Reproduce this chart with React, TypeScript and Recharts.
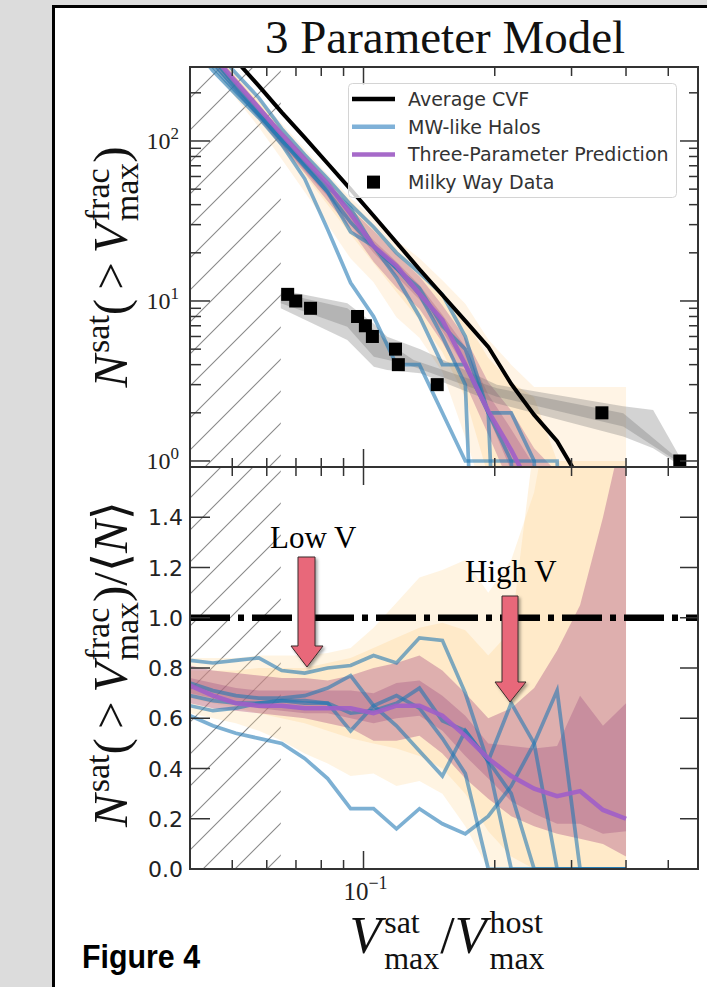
import React from 'react';
import {
  ComposedChart, Line, Area, Scatter, XAxis, YAxis, ReferenceArea, ReferenceLine, Legend,
} from 'recharts';

// ---------------- data ----------------
const vGrid = [0.04, 0.04515, 0.05097, 0.05753, 0.06494, 0.07331, 0.08275, 0.09341, 0.10544, 0.11902,
  0.13436, 0.15166, 0.1712, 0.19325, 0.21815, 0.24625, 0.27797, 0.31378, 0.35421, 0.4];

const xTicks = [0.05, 0.06, 0.07, 0.08, 0.09, 0.1, 0.2, 0.3, 0.4, 0.5];
const xMajor = [0.1];
const topYTicks = [1, 2, 3, 4, 5, 6, 7, 8, 9, 10, 20, 30, 40, 50, 60, 70, 80, 90, 100, 200];
const topYMajor = [1, 10, 100];
const botYTicks = [0, 0.2, 0.4, 0.6, 0.8, 1.0, 1.2, 1.4];
const resolutionLimit = 0.0646;
const xDomain = [0.04, 0.585];
const topDomain = [0.917, 290];
const botDomain = [0, 1.6];

// top panel: cumulative velocity functions
const avgCVF = [670, 463, 319, 221, 151, 105, 72.3, 49.8, 34.1, 23.2, 15.8, 10.9, 7.51, 5.17, 3.03, 1.94, 1.33, 0.76];
const predTop = [500, 342, 234, 161, 110, 77, 54, 35, 22, 16.6, 11.1, 7.6, 4.0, 2.05, 1.17, 0.62, 0.38, 0.22, 0.1, 0.05];
const mwTop1 = [410, 275, 195, 140, 95, 58, 28, 13, 8, 4, 4, 2, 1, 1, 1, 1, 1, 0.001, 0.001, 0.001];
const mwTop2 = [556, 380, 265, 186, 119, 82, 58, 40, 29, 20, 15, 11, 6, 2, 0.001, 0.001, 0.001, 0.001, 0.001, 0.001];
const mwTop3 = [496, 329, 220, 150, 103, 72, 52, 38, 22, 14, 8, 4, 4, 2, 2, 1, 0.001, 0.001, 0.001, 0.001];
const mwTop4 = [462, 310, 211, 146, 101, 70, 48, 27, 22, 16, 11, 6, 3, 0.001, 0.001, 0.001, 0.001, 0.001, 0.001, 0.001];
const mwTop5 = [436, 292, 204, 146, 101, 69, 48, 31, 22, 16, 12, 7, 5, 2, 1, 0.001, 0.001, 0.001, 0.001, 0.001];

const orangeOuterTopLo = [415, 278, 185, 122, 77, 48, 30, 18.4, 13.1, 7.9, 5.9, 3.6, 1.4, 0.5, 0.3, 0.2, 0.1, 0.1, 0.1, 0.1];
const orangeOuterTopHi = [563, 389, 268, 188, 128, 89, 62, 44, 33, 24, 18.5, 13.5, 9.6, 5.75, 4.0, 2.9, 2.9, 2.9, 2.9, 2.9];
const orangeInnerTopLo = [456, 306, 204, 137, 91, 61, 40, 26, 17.3, 11.4, 7.6, 4.8, 2.5, 0.8, 0.3, 0.2, 0.1, 0.1, 0.1, 0.1];
const orangeInnerTopHi = [529, 366, 252, 177, 121, 84, 59, 42, 30, 21, 15, 11, 7.6, 4.4, 3.1, 2.5, 1.0, 1.0, 1.0, 1.0];
const pinkOuterTopLo = [442, 296, 201, 137, 92, 63, 42, 28, 17.6, 12.1, 8.9, 5.5, 3.05, 1.46, 0.68, 0.33, 0.18, 0.1, 0.1, 0.1];
const pinkOuterTopHi = [543, 366, 249, 170, 115, 80, 54, 38, 27.6, 19.5, 14.3, 9.4, 5.9, 3.1, 2.07, 1.2, 0.85, 0.8, 0.8, 0.8];
const pinkInnerTopLo = [469, 315, 211, 141, 95, 65, 45, 30, 20, 14.3, 10.2, 6.5, 3.8, 1.9, 0.87, 0.43, 0.24, 0.13, 0.1, 0.1];
const pinkInnerTopHi = [509, 343, 230, 157, 107, 75, 51, 35, 24, 17.6, 12.6, 8.2, 5.2, 2.6, 1.58, 0.93, 0.65, 0.48, 0.3, 0.2];

// Milky Way satellites
const mwDataX = [0.067, 0.0699, 0.0756, 0.0969, 0.101, 0.1048, 0.1184, 0.1202, 0.1476, 0.3522, 0.5314];
const mwDataN = [11, 10, 9, 8, 7, 6, 5, 4, 3, 2, 1];
const grayInnerX = [0.0646, 0.0918, 0.1056, 0.1173, 0.1303, 0.2023, 0.3942, 0.5314];
const grayInnerLo = [9.67, 6.9, 4.48, 4.2, 3.88, 2.52, 1.64, 0.97];
const grayInnerHi = [11.2, 9.0, 6.6, 5.18, 4.28, 2.85, 1.99, 1.01];
const grayOuterX = [0.0646, 0.0918, 0.1056, 0.1133, 0.135, 0.2023, 0.3942, 0.4616, 0.5314];
const grayOuterLo = [9.0, 5.7, 3.88, 3.7, 3.53, 2.29, 1.42, 1.2, 0.94];
const grayOuterHi = [11.7, 9.67, 7.2, 5.98, 5.0, 2.99, 2.2, 2.08, 1.06];

// bottom panel: ratio to average CVF
const predBot = [0.73, 0.69, 0.66, 0.65, 0.65, 0.64, 0.64, 0.64, 0.62, 0.65, 0.65, 0.61, 0.53, 0.44, 0.37, 0.32, 0.29, 0.31, 0.235, 0.2];
const mwBot1 = [0.61, 0.57, 0.54, 0.52, 0.5, 0.44, 0.36, 0.24, 0.24, 0.16, 0.24, 0.18, 0.14, 0.21, 0.33, 0.5, 0.71, 0, 0, 0];
const mwBot2 = [0.83, 0.82, 0.83, 0.84, 0.79, 0.78, 0.8, 0.81, 0.85, 0.82, 0.92, 0.91, 0.7, 0.42, 0, 0, 0, 0, 0, 0];
const mwBot3 = [0.74, 0.71, 0.69, 0.68, 0.68, 0.69, 0.72, 0.77, 0.65, 0.57, 0.47, 0.37, 0.55, 0.43, 0.66, 0.5, 0, 0, 0, 0];
const mwBot4 = [0.69, 0.67, 0.66, 0.66, 0.67, 0.67, 0.66, 0.55, 0.65, 0.69, 0.64, 0.52, 0.38, 0, 0, 0, 0, 0, 0, 0];
const mwBot5 = [0.65, 0.63, 0.64, 0.66, 0.67, 0.66, 0.66, 0.62, 0.63, 0.66, 0.72, 0.59, 0.55, 0.43, 0.3, 0, 0, 0, 0, 0];

const orangeOuterBotLo = [0.62, 0.6, 0.58, 0.55, 0.51, 0.46, 0.42, 0.37, 0.38, 0.33, 0.35, 0.3, 0.17, 0, 0, 0, 0, 0, 0, 0];
const orangeOuterBotHi = [0.84, 0.84, 0.84, 0.85, 0.85, 0.85, 0.86, 0.88, 0.96, 1.06, 1.16, 1.19, 1.23, 1.1, 1.23, 1.5, 2.0, 2.2, 2.4, 2.6];
const orangeInnerBotLo = [0.68, 0.66, 0.64, 0.62, 0.6, 0.58, 0.55, 0.52, 0.5, 0.48, 0.45, 0.4, 0.3, 0.15, 0.05, 0, 0, 0, 0, 0];
const orangeInnerBotHi = [0.79, 0.79, 0.79, 0.8, 0.8, 0.8, 0.82, 0.84, 0.88, 0.92, 0.96, 0.98, 0.95, 0.85, 0.95, 1.7, 2.0, 2.0, 2.0, 2.0];
const pinkOuterBotLo = [0.66, 0.64, 0.63, 0.62, 0.61, 0.6, 0.58, 0.56, 0.51, 0.51, 0.53, 0.46, 0.36, 0.28, 0.21, 0.17, 0.14, 0.12, 0.1, 0.05];
const pinkOuterBotHi = [0.81, 0.79, 0.78, 0.77, 0.76, 0.76, 0.75, 0.77, 0.8, 0.82, 0.85, 0.79, 0.7, 0.6, 0.64, 0.72, 0.87, 1.05, 1.4, 1.8];
const pinkInnerBotLo = [0.7, 0.68, 0.66, 0.64, 0.63, 0.62, 0.62, 0.6, 0.58, 0.6, 0.61, 0.55, 0.45, 0.36, 0.27, 0.22, 0.18, 0.18, 0.14, 0.15];
const pinkInnerBotHi = [0.76, 0.74, 0.72, 0.71, 0.71, 0.71, 0.71, 0.71, 0.7, 0.74, 0.75, 0.69, 0.61, 0.5, 0.49, 0.48, 0.49, 0.69, 0.57, 0.66];

const legendLabels = ['Average CVF', 'MW-like Halos', 'Three-Parameter Prediction', 'Milky Way Data'];

// ---------------- helpers ----------------
const pts = (xs: number[], ys: number[]) =>
  xs.map((x, i) => ({ x, y: ys[i] })).filter((d) => d.y !== undefined);
const band = (xs: number[], lo: number[], hi: number[]) => xs.map((x, i) => ({ x, r: [lo[i], hi[i]] }));

// ---------------- styles ----------------
const W = 707;
const H = 987;
const PLOT_W = 508;
const TOP_H = 400;
const BOT_H = 402;
const axisColor = '#333';
const BLUE = '#1f77b4';
const PURPLE = '#a05ec8';
const ORANGE_OUT = '#ffd9a0';
const ORANGE_IN = '#ffcf88';
const PINK_OUT = '#9e3f7a';
const PINK_IN = '#8e3a78';
const GRAY = '#6e6e6e';
const SERIF = 'Liberation Serif, DejaVu Serif, serif';
const SANS = 'DejaVu Sans, sans-serif';

function XTick(props: any) {
  const { x, y, payload, h, label } = props;
  const major = xMajor.includes(payload.value);
  const len = major ? 18 : 9;
  return (
    <g>
      <line x1={x} x2={x} y1={y} y2={y - len} stroke={axisColor} strokeWidth={1.5} />
      <line x1={x} x2={x} y1={y - h} y2={y - h + len} stroke={axisColor} strokeWidth={1.5} />
      {label && major ? (
        <text x={x + 2} y={y + 31} textAnchor="middle" fontFamily={SERIF} fontSize={25} fill="#222">
          10<tspan dy={-11} fontSize={18}>{'\u22121'}</tspan>
        </text>
      ) : null}
    </g>
  );
}

function YTickTop(props: any) {
  const { x, y, payload } = props;
  const v = payload.value;
  const major = topYMajor.includes(v);
  const exp = Math.round(Math.log10(v));
  return (
    <g>
      <line x1={x} x2={x + (major ? 20 : 11)} y1={y} y2={y} stroke={axisColor} strokeWidth={1.5} />
      <line x1={x + PLOT_W} x2={x + PLOT_W - (major ? 18 : 9)} y1={y} y2={y} stroke={axisColor} strokeWidth={1.5} />
      {major ? (
        <text x={x - 11} y={y + 8} textAnchor="end" fontFamily={SERIF} fontSize={24} fill="#222">
          10<tspan dy={-10} fontSize={17}>{String(exp)}</tspan>
        </text>
      ) : null}
    </g>
  );
}

function YTickBot(props: any) {
  const { x, y, payload } = props;
  return (
    <g>
      <line x1={x} x2={x + 20} y1={y} y2={y} stroke={axisColor} strokeWidth={1.5} />
      <line x1={x + PLOT_W} x2={x + PLOT_W - 18} y1={y} y2={y} stroke={axisColor} strokeWidth={1.5} />
      <text x={x - 7} y={y + 8} textAnchor="end" fontFamily={SANS} fontSize={22} fill="#222">
        {payload.value.toFixed(1)}
      </text>
    </g>
  );
}

const Square = (p: any) => <rect x={p.cx - 6.5} y={p.cy - 6.5} width={13} height={13} fill="#000" />;

function LegendBox() {
  const rowY = (i: number) => 16 + 27.7 * i;
  const swatch = ['#000', '#7fb1d8', '#a66ac9'];
  return (
    <svg width={329} height={115} style={{ display: 'block' }}>
      <rect x={0.5} y={0.5} width={328} height={114} rx={4} fill="#fff" fillOpacity={0.8} stroke="#d4d4d4" />
      {legendLabels.map((lab, i) => (
        <g key={lab}>
          {i < 3 ? (
            <line x1={4} x2={47} y1={rowY(i)} y2={rowY(i)} stroke={swatch[i]} strokeWidth={4.5} />
          ) : (
            <rect x={19} y={rowY(i) - 6.5} width={13} height={13} fill="#000" />
          )}
          <text x={60} y={rowY(i) + 7} fontFamily={SANS} fontSize={19} fill="#333">{lab}</text>
        </g>
      ))}
    </svg>
  );
}

function Background() {
  return (
    <svg width={W} height={H} style={{ position: 'absolute', left: 0, top: 0 }}>
      <defs>
        <pattern id="hatch" patternUnits="userSpaceOnUse" width={32} height={32}>
          <path d="M0,32 L32,0 M-8,8 L8,-8 M24,40 L40,24" stroke="#8a8a8a" strokeWidth={1.1} />
        </pattern>
        <filter id="shadow" x="-60%" y="-20%" width="220%" height="150%">
          <feDropShadow dx={2} dy={2} stdDeviation={1.8} floodColor="#000" floodOpacity={0.35} />
        </filter>
      </defs>
      <rect x={0} y={0} width={W} height={H} fill="#dcdcdc" />
      <rect x={53} y={6} width={W} height={H} fill="#fff" />
      <line x1={53.5} x2={53.5} y1={5} y2={H} stroke="#000" strokeWidth={3} />
      <line x1={52} x2={W} y1={6.5} y2={6.5} stroke="#000" strokeWidth={3} />
    </svg>
  );
}

function Overlay() {
  const SUP = 34;
  const XS = 32;
  const fracW = 1.554 * SUP;
  const satW = 1.111 * XS;
  const hostW = 1.667 * XS;
  const yLabelCore = [
    <tspan key="n" fontStyle="italic">N</tspan>,
    <tspan key="s" fontSize={SUP} dy={-18} dx={2}>sat</tspan>,
    <tspan key="p" dy={18}>(</tspan>,
    <tspan key="g" dx={9}>{'>'}</tspan>,
    <tspan key="v" dx={9} fontStyle="italic">V</tspan>,
    <tspan key="f" fontSize={SUP} dy={-18} dx={2}>frac</tspan>,
    <tspan key="m" fontSize={SUP} dx={-fracW} dy={29}>max</tspan>,
    <tspan key="c" dy={-11}>)</tspan>,
  ];
  return (
    <svg width={W} height={H} style={{ position: 'absolute', left: 0, top: 0, pointerEvents: 'none' }}>
      {/* frames */}
      <rect x={190} y={67} width={PLOT_W} height={TOP_H} fill="none" stroke={axisColor} strokeWidth={2} />
      <rect x={190} y={467} width={PLOT_W} height={BOT_H} fill="none" stroke={axisColor} strokeWidth={2} />
      {/* title */}
      <text x={445} y={53} textAnchor="middle" fontFamily={SERIF} fontSize={47} fill="#111">3 Parameter Model</text>
      {/* y labels */}
      <text transform="translate(127,267) rotate(-90)" textAnchor="middle" fontFamily={SERIF} fontSize={49} fill="#111">
        {yLabelCore}
      </text>
      <text transform="translate(127,664) rotate(-90)" textAnchor="middle" fontFamily={SERIF} fontSize={49} fill="#111">
        {yLabelCore}
        <tspan>/</tspan>
        <tspan>{'\u27E8'}</tspan>
        <tspan fontStyle="italic">N</tspan>
        <tspan>{'\u27E9'}</tspan>
      </text>
      {/* x label */}
      <text x={447} y={953} textAnchor="middle" fontFamily={SERIF} fontSize={52} fill="#111">
        <tspan fontStyle="italic">V</tspan>
        <tspan fontSize={XS} dy={-20} dx={3}>sat</tspan>
        <tspan fontSize={XS} dx={-satW} dy={36}>max</tspan>
        <tspan dy={-16} dx={1}>/</tspan>
        <tspan fontStyle="italic">V</tspan>
        <tspan fontSize={XS} dy={-20} dx={3}>host</tspan>
        <tspan fontSize={XS} dx={-hostW} dy={36}>max</tspan>
      </text>
      {/* figure caption */}
      <text x={82} y={968} fontFamily="Liberation Sans, Arial, sans-serif" fontWeight="bold" fontSize={33}
        textLength={118} lengthAdjust="spacingAndGlyphs" fill="#000">Figure 4</text>
      {/* annotations */}
      <text x={270} y={548} fontFamily={SERIF} fontSize={31} fill="#000">Low V</text>
      <text x={465} y={582} fontFamily={SERIF} fontSize={31} fill="#000">High V</text>
      <polygon points="298,557 315,557 315,646 323,646 307,667 291,646 298,646"
        fill="#e8677a" stroke="#3a2a2a" strokeWidth={1} filter="url(#shadow)" />
      <polygon points="502,596 518,596 518,682 526,682 510,702 495,682 502,682"
        fill="#e8677a" stroke="#3a2a2a" strokeWidth={1} filter="url(#shadow)" />
    </svg>
  );
}

const blueLine = (key: string, data: any[]) => (
  <Line key={key} data={data} dataKey="y" type="linear" stroke={BLUE} strokeOpacity={0.58} strokeWidth={3.7}
    dot={false} isAnimationActive={false} legendType="none" />
);
const bandArea = (key: string, data: any[], fill: string, op: number) => (
  <Area key={key} data={data} dataKey="r" type="linear" stroke="none" fill={fill} fillOpacity={op}
    isAnimationActive={false} legendType="none" />
);

function TopPanel() {
  return (
    <div style={{ position: 'absolute', left: 0, top: 0 }}>
      <ComposedChart width={W} height={500} margin={{ top: 67, right: 9, bottom: 0, left: 130 }}>
        <XAxis dataKey="x" type="number" scale="log" domain={xDomain} allowDataOverflow ticks={xTicks}
          interval={0} height={33} tickSize={0} tickMargin={0} axisLine={false} tickLine={false}
          tick={(p: any) => <XTick {...p} h={TOP_H} label={false} />} />
        <YAxis type="number" scale="log" domain={topDomain} allowDataOverflow ticks={topYTicks}
          interval={0} width={60} tickSize={0} tickMargin={0} axisLine={false} tickLine={false}
          tick={(p: any) => <YTickTop {...p} />} />
        <ReferenceArea x1={xDomain[0]} x2={resolutionLimit} y1={topDomain[0]} y2={topDomain[1]}
          fill="url(#hatch)" fillOpacity={1} stroke="none" />
        {bandArea('oo', band(vGrid, orangeOuterTopLo, orangeOuterTopHi), ORANGE_OUT, 0.28)}
        {bandArea('oi', band(vGrid, orangeInnerTopLo, orangeInnerTopHi), ORANGE_IN, 0.28)}
        {bandArea('po', band(vGrid, pinkOuterTopLo, pinkOuterTopHi), PINK_OUT, 0.3)}
        {bandArea('pi', band(vGrid, pinkInnerTopLo, pinkInnerTopHi), PINK_IN, 0.25)}
        {bandArea('go', band(grayOuterX, grayOuterLo, grayOuterHi), GRAY, 0.3)}
        {bandArea('gi', band(grayInnerX, grayInnerLo, grayInnerHi), GRAY, 0.3)}
        {blueLine('b1', pts(vGrid, mwTop1))}
        {blueLine('b2', pts(vGrid, mwTop2))}
        {blueLine('b3', pts(vGrid, mwTop3))}
        {blueLine('b4', pts(vGrid, mwTop4))}
        {blueLine('b5', pts(vGrid, mwTop5))}
        <Line data={pts(vGrid, predTop)} dataKey="y" stroke={PURPLE} strokeWidth={4.5} strokeOpacity={0.9}
          dot={false} isAnimationActive={false} />
        <Line data={pts(vGrid, avgCVF)} dataKey="y" stroke="#000" strokeWidth={4} dot={false} isAnimationActive={false} />
        <Scatter data={pts(mwDataX, mwDataN)} dataKey="y" shape={Square} isAnimationActive={false} />
        <Legend layout="vertical" align="center" verticalAlign="middle" content={() => <LegendBox />}
          wrapperStyle={{ position: 'absolute', left: 348, top: 83, width: 329, height: 115, margin: 0, padding: 0 }} />
      </ComposedChart>
    </div>
  );
}

function BottomPanel() {
  return (
    <div style={{ position: 'absolute', left: 0, top: 400 }}>
      <ComposedChart width={W} height={587} margin={{ top: 67, right: 9, bottom: 78, left: 130 }}>
        <XAxis dataKey="x" type="number" scale="log" domain={xDomain} allowDataOverflow ticks={xTicks}
          interval={0} height={40} tickSize={0} tickMargin={0} axisLine={false} tickLine={false}
          tick={(p: any) => <XTick {...p} h={BOT_H} label />} />
        <YAxis type="number" domain={botDomain} allowDataOverflow ticks={botYTicks}
          interval={0} width={60} tickSize={0} tickMargin={0} axisLine={false} tickLine={false}
          tick={(p: any) => <YTickBot {...p} />} />
        <ReferenceArea x1={xDomain[0]} x2={resolutionLimit} y1={botDomain[0]} y2={botDomain[1]}
          fill="url(#hatch)" fillOpacity={1} stroke="none" />
        {bandArea('oo', band(vGrid, orangeOuterBotLo, orangeOuterBotHi), ORANGE_OUT, 0.3)}
        {bandArea('oi', band(vGrid, orangeInnerBotLo, orangeInnerBotHi), ORANGE_IN, 0.28)}
        {bandArea('po', band(vGrid, pinkOuterBotLo, pinkOuterBotHi), PINK_OUT, 0.34)}
        {bandArea('pi', band(vGrid, pinkInnerBotLo, pinkInnerBotHi), PINK_IN, 0.28)}
        {blueLine('b1', pts(vGrid, mwBot1))}
        {blueLine('b2', pts(vGrid, mwBot2))}
        {blueLine('b3', pts(vGrid, mwBot3))}
        {blueLine('b4', pts(vGrid, mwBot4))}
        {blueLine('b5', pts(vGrid, mwBot5))}
        <Line data={pts(vGrid, predBot)} dataKey="y" stroke={PURPLE} strokeWidth={4.5} strokeOpacity={0.9}
          dot={false} isAnimationActive={false} />
        <ReferenceLine y={1} stroke="#000" strokeWidth={6.5} strokeDasharray="40 8 6 8" />
      </ComposedChart>
    </div>
  );
}

export default function App() {
  return (
    <div style={{ position: 'absolute', left: 0, top: 0, width: W, height: H, overflow: 'hidden', fontFamily: SANS }}>
      <Background />
      <TopPanel />
      <BottomPanel />
      <Overlay />
    </div>
  );
}
